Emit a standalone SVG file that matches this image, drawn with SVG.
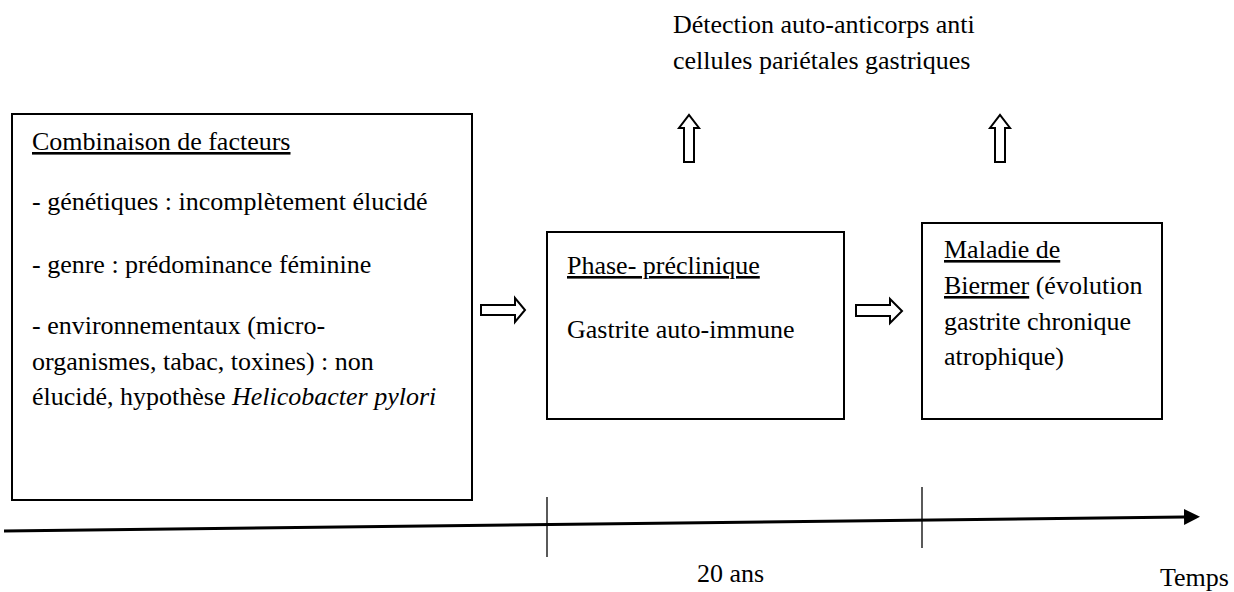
<svg xmlns="http://www.w3.org/2000/svg" width="1234" height="592" viewBox="0 0 1234 592">
<style>
text{font-family:'Liberation Serif','Times New Roman',serif;font-size:26px;fill:#000}
.u{text-decoration:underline}
.box{fill:#fff;stroke:#000;stroke-width:2}
.harrow{fill:#fff;stroke:#000;stroke-width:2;stroke-linejoin:miter}
.tick{stroke:#000;stroke-width:1.3}
</style>
<defs>
<marker id="ah" markerWidth="16" markerHeight="16" refX="0" refY="8" orient="auto" markerUnits="userSpaceOnUse">
<path d="M0,0 L16,8 L0,16 Z" fill="#000"/>
</marker>
</defs>
<rect width="1234" height="592" fill="#fff"/>
<g id="top-label">
<text x="673" y="33">Détection auto-anticorps anti</text>
<text x="673" y="69">cellules pariétales gastriques</text>
</g>
<g id="facteurs">
<rect class="box" x="12" y="114" width="460" height="386"/>
<text x="32" y="150" class="u">Combinaison de facteurs</text>
<text x="32" y="210">- génétiques : incomplètement élucidé</text>
<text x="32" y="273">- genre : prédominance féminine</text>
<text x="32" y="334">- environnementaux (micro-</text>
<text x="32" y="370">organismes, tabac, toxines) : non</text>
<text x="32" y="405">élucidé, hypothèse <tspan font-style="italic">Helicobacter pylori</tspan></text>
</g>
<g id="preclinique">
<rect class="box" x="547" y="232" width="297" height="187"/>
<text x="567" y="274" class="u">Phase- préclinique</text>
<text x="567" y="338">Gastrite auto-immune</text>
</g>
<g id="biermer">
<rect class="box" x="922" y="223" width="240" height="196"/>
<text x="944" y="258" class="u">Maladie de</text>
<text x="944" y="294"><tspan class="u">Biermer</tspan> (évolution</text>
<text x="944" y="330">gastrite chronique</text>
<text x="944" y="365">atrophique)</text>
</g>
<g id="connectors">
<path class="harrow" d="M481,305 H515 V298 L525,310 L515,322 V315 H481 Z"/>
<path class="harrow" d="M856,305 H890 V299 L902,311 L890,323 V316 H856 Z"/>
<path class="harrow" d="M684,162 V128 H679 L689,115 L699,128 H694 V162 Z"/>
<path class="harrow" d="M995,162 V128 H990 L1000,115 L1010,128 H1005 V162 Z"/>
</g>
<g id="timeline">
<line x1="4" y1="531" x2="1184" y2="517" stroke="#000" stroke-width="3" marker-end="url(#ah)"/>
<line class="tick" x1="547" y1="497" x2="547" y2="557"/>
<line class="tick" x1="922" y1="487" x2="922" y2="548"/>
<text x="697" y="582">20 ans</text>
<text x="1160" y="586">Temps</text>
</g>
</svg>
